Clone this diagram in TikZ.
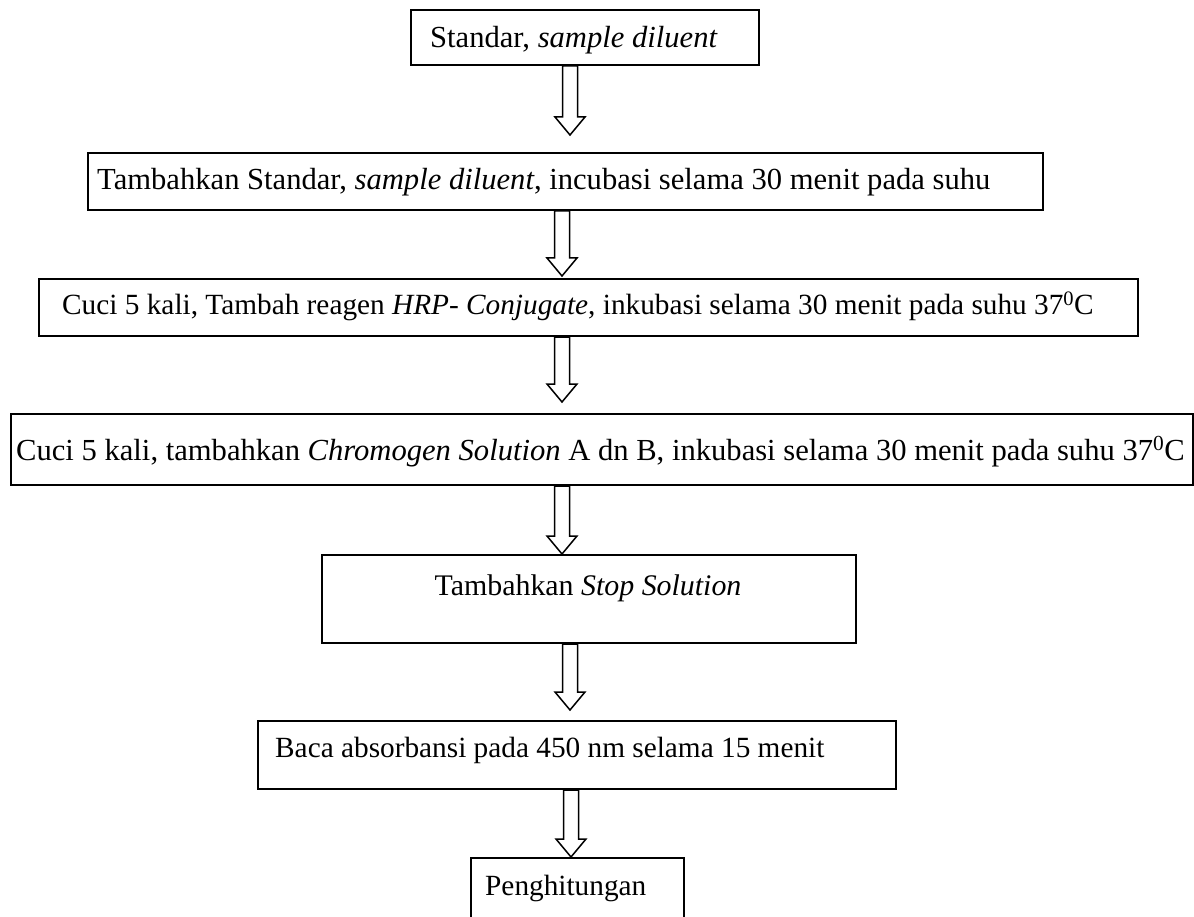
\documentclass[tikz,border=0pt]{standalone}
\usepackage{fontspec}
\setmainfont{Liberation Serif}
\usetikzlibrary{calc}
% #1 from node, #2 to node, #3 x centre, #4 tip y
\newcommand{\blockarrow}[4]{%
  \pgfmathsetmacro\axl{#3-7.5}\pgfmathsetmacro\axr{#3+7.5}%
  \pgfmathsetmacro\ahl{#3-15}\pgfmathsetmacro\ahr{#3+15}%
  \pgfmathsetmacro\hb{#4-18}%
  \draw[arr] (\axl,0 |- #1.south) -- (\axl,\hb) -- (\ahl,\hb) -- (#3,#4)
    -- (\ahr,\hb) -- (\axr,\hb) -- (\axr,0 |- #1.south) -- cycle;}
\begin{document}
\begin{tikzpicture}[x=1pt,y=-1pt,
  box/.style={draw, line width=2pt, anchor=north west, inner sep=0pt},
  txt/.style={inner sep=0pt, anchor=base west, font=\fontsize{30.6}{36}\selectfont},
  txtb/.style={inner sep=0pt, anchor=base west, font=\fontsize{29.3}{35}\selectfont},
  txtc/.style={inner sep=0pt, anchor=base, font=\fontsize{29.9}{35}\selectfont},
  arr/.style={draw, line width=1.5pt, fill=white, line join=miter}]
\fill[white] (0,0) rectangle (1194,917);
\useasboundingbox (0,0) rectangle (1194,917);
\clip (0,0) rectangle (1194,917);
% boxes
\node[box, minimum width=348pt, minimum height=55pt] (b1) at (410,9) {};
\node[box, minimum width=955pt, minimum height=57pt] (b2) at (87,152) {};
\node[box, minimum width=1099pt, minimum height=57pt] (b3) at (38,278) {};
\node[box, minimum width=1182pt, minimum height=71pt] (b4) at (10,413) {};
\node[box, minimum width=534pt, minimum height=88pt] (b5) at (321,554) {};
\node[box, minimum width=638pt, minimum height=68pt] (b6) at (257,720) {};
\node[box, minimum width=213pt, minimum height=90pt] (b7) at (470,857) {};
% texts
\node[txt] (t1) at (430,48) {Standar, \textit{sample diluent}};
\node[txt] (t2) at (97,190) {Tambahkan Standar, \textit{sample diluent}, incubasi selama 30 menit pada suhu};
\node[txtb] (t3) at (62,315) {Cuci 5 kali, Tambah reagen \textit{HRP- Conjugate}, inkubasi selama 30 menit pada suhu 37\textsuperscript{0}C};
\node[txt] (t4) at (16,460) {Cuci 5 kali, tambahkan \textit{Chromogen Solution} A dn B, inkubasi selama 30 menit pada suhu 37\textsuperscript{0}C};
\node[txtc] (t5) at (588,595) {Tambahkan \textit{Stop Solution}};
\node[txtb] (t6) at (275,757) {Baca absorbansi pada 450 nm selama 15 menit};
\node[txtb] (t7) at (485,895) {Penghitungan};
% arrows
\blockarrow{b1}{b2}{570}{135}
\blockarrow{b2}{b3}{562}{276}
\blockarrow{b3}{b4}{562}{402}
\blockarrow{b4}{b5}{562}{554}
\blockarrow{b5}{b6}{570}{710}
\blockarrow{b6}{b7}{571}{857}
\end{tikzpicture}
\end{document}
